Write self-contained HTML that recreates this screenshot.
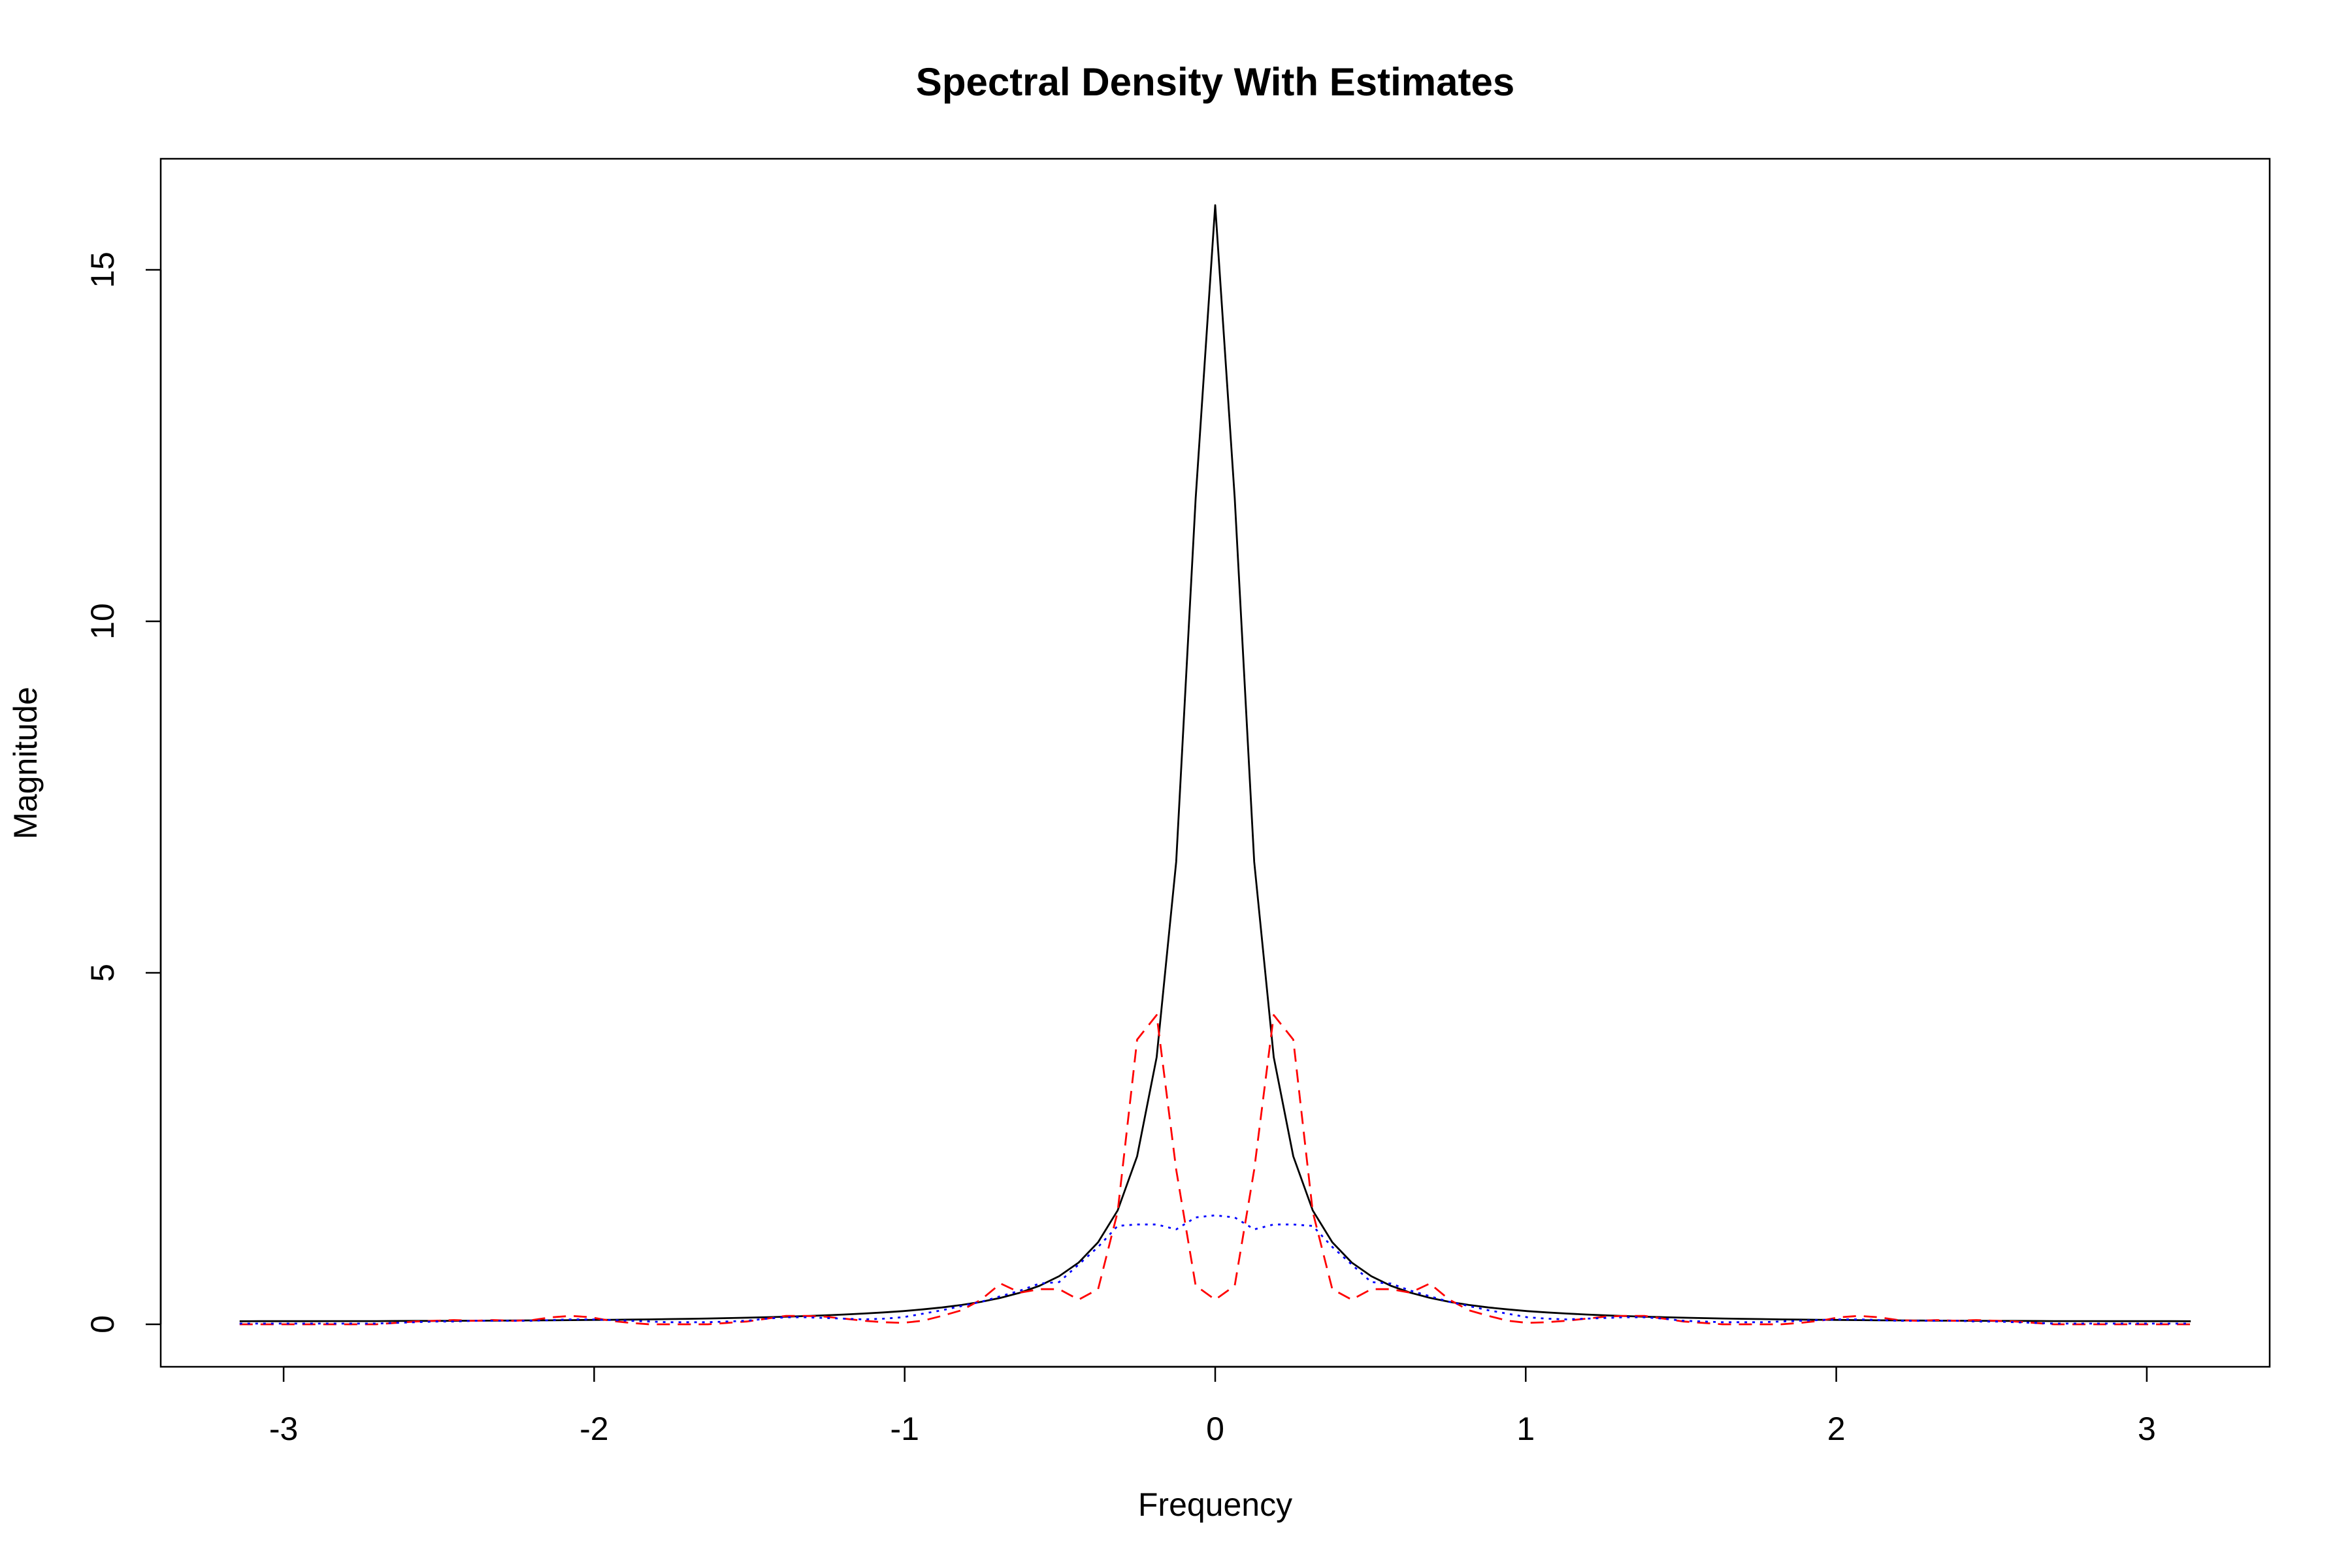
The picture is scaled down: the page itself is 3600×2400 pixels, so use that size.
<!DOCTYPE html>
<html><head><meta charset="utf-8"><style>
html,body{margin:0;padding:0;background:#fff}
svg{display:block;font-family:"Liberation Sans",sans-serif}
</style></head><body>
<svg id="chart" width="3600" height="2400" viewBox="0 0 3600 2400">
<rect width="3600" height="2400" fill="#fff"/>
<text x="1860" y="146" text-anchor="middle" font-size="60" font-weight="bold">Spectral Density With Estimates</text>
<rect x="246" y="243" width="3228" height="1849" fill="none" stroke="#000" stroke-width="2.5"/>
<g id="xaxis"></g>
<g id="yaxis"></g>
<text x="1860" y="2320" text-anchor="middle" font-size="50">Frequency</text>
<text transform="translate(56,1168) rotate(-90)" text-anchor="middle" font-size="50">Magnitude</text>
<g id="series"></g>
</svg>
<script>
const xTicks = [-3, -2, -1, 0, 1, 2, 3];
const yTicks = [0, 5, 10, 15];
const blackHalf = [15.92,11.75,6.58,3.80,2.39,1.62,1.167,0.878,0.684,0.548,0.450,0.376,0.320,0.275,0.240,0.212,0.188,0.169,0.153,0.139,0.127,0.117,0.108,0.101,0.094,0.088,0.083,0.078,0.074,0.070,0.067,0.064,0.062,0.0595,0.057,0.0555,0.054,0.052,0.051,0.050,0.0487,0.048,0.047,0.046,0.0455,0.0452,0.045,0.0445,0.0443,0.0442,0.0441];
const redHalf = [0.35,0.55,2.2,4.4,4.05,1.6,0.5,0.35,0.5,0.5,0.45,0.58,0.35,0.2,0.12,0.05,0.02,0.03,0.05,0.08,0.11,0.12,0.12,0.08,0.04,0.02,0.0,0.0,0.0,0.0,0.02,0.05,0.1,0.12,0.1,0.06,0.05,0.06,0.05,0.06,0.05,0.04,0.02,0.0,0.0,0.0,0.0,0.0,0.0,0.0,0.0];
const blueHalf = [1.55,1.52,1.35,1.42,1.42,1.4,1.1,0.85,0.6,0.58,0.48,0.4,0.32,0.26,0.2,0.15,0.1,0.08,0.07,0.08,0.09,0.1,0.1,0.08,0.05,0.04,0.03,0.03,0.03,0.04,0.05,0.06,0.07,0.07,0.06,0.05,0.05,0.05,0.05,0.04,0.04,0.03,0.02,0.01,0.01,0.01,0.01,0.01,0.01,0.01,0.01];

const NS = 'http://www.w3.org/2000/svg';
const X0 = 1860, XS = 475.3, Y0 = 2027, YS = 107.6;
function sx(v){ return X0 + v*XS; }
function sy(v){ return Y0 - v*YS; }
function mk(tag, attrs, parent){
  const e = document.createElementNS(NS, tag);
  for (const k in attrs) e.setAttribute(k, attrs[k]);
  parent.appendChild(e);
  return e;
}
const xg = document.getElementById('xaxis');
const yg = document.getElementById('yaxis');
mk('line',{x1:sx(-3),x2:sx(3),y1:2092,y2:2092,stroke:'#000','stroke-width':2.5},xg);
xTicks.forEach(t=>{
  const l = mk('line',{x1:sx(t),x2:sx(t),y1:2092,y2:2115,stroke:'#000','stroke-width':2.5},xg);
  
  
  const tx = mk('text',{x:sx(t),y:2204,'text-anchor':'middle','font-size':50},xg);
  tx.textContent = String(t);
  
  
});
mk('line',{x1:246,x2:246,y1:sy(0),y2:sy(15),stroke:'#000','stroke-width':2.5},yg);
yTicks.forEach(t=>{
  const l = mk('line',{x1:223,x2:246,y1:sy(t),y2:sy(t),stroke:'#000','stroke-width':2.5},yg);
  
  
  const tx = mk('text',{transform:`translate(174,${sy(t)}) rotate(-90)`,'text-anchor':'middle','font-size':50},yg);
  tx.textContent = String(t);
  
  
});
function full(half){
  const out = [];
  for (let k=-50;k<=50;k++) out.push(half[Math.abs(k)]);
  return out;
}
const freqs = [];
for (let k=-50;k<=50;k++) freqs.push(k*2*Math.PI/100);
const sg = document.getElementById('series');
function draw(half, color, dash, name){
  const vals = full(half);
  const d = vals.map((v,i)=>(i?'L':'M')+sx(freqs[i]).toFixed(1)+','+sy(v).toFixed(1)).join(' ');
  const p = mk('path',{d:d,fill:'none',stroke:color,'stroke-width':2.8,'stroke-dasharray':dash,'stroke-linejoin':'round'},sg);
  
  
}
draw(blackHalf,'#000','none','true-spectral-density-line');
draw(redHalf,'#ff0000','20 12','periodogram-estimate-line');
draw(blueHalf,'#0000ff','4 8','smoothed-estimate-line');
</script>
</body></html>
